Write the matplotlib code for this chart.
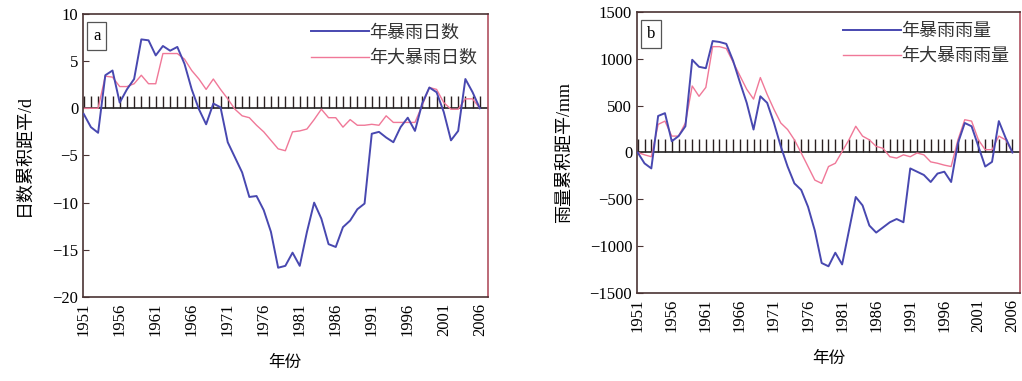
import numpy as np
import matplotlib
matplotlib.use("Agg")
import matplotlib.pyplot as plt

plt.rcParams['font.family'] = ['Liberation Serif', 'Noto Sans CJK SC', 'DejaVu Sans']

years = np.arange(1951, 2007)

# cumulative anomaly of rainstorm days (d)
storm_days = [
    -0.6, -2.0, -2.6, 3.5, 4.0, 0.6, 2.0, 3.1, 7.3, 7.2,
    5.6, 6.6, 6.1, 6.5, 4.7, 2.0, -0.1, -1.7, 0.5, 0.1,
    -3.6, -5.2, -6.8, -9.4, -9.3, -10.8, -13.1, -16.9, -16.7, -15.3,
    -16.7, -13.1, -10.0, -11.7, -14.4, -14.7, -12.6, -11.9, -10.7, -10.1,
    -2.7, -2.5, -3.1, -3.6, -2.0, -1.0, -2.4, 0.5, 2.2, 1.7,
    -0.4, -3.4, -2.4, 3.1, 1.7, 0.0,
]
heavy_storm_days = [
    0.0, 0.0, 0.0, 3.4, 3.3, 2.3, 2.3, 2.6, 3.5, 2.6,
    2.6, 5.8, 5.8, 5.8, 5.2, 4.0, 3.1, 2.0, 3.1, 2.0,
    1.0, -0.1, -0.8, -1.0, -1.8, -2.5, -3.4, -4.3, -4.5, -2.5,
    -2.4, -2.2, -1.2, -0.1, -1.0, -1.0, -2.0, -1.2, -1.8, -1.8,
    -1.7, -1.8, -0.8, -1.5, -1.5, -1.5, -1.5, 0.3, 2.2, 2.0,
    0.6, -0.1, -0.1, 1.0, 1.0, 0.0,
]

# cumulative anomaly of rainstorm precipitation (mm)
storm_rain = [
    0, -116, -170, 390, 420, 120, 175, 280, 990, 915,
    900, 1190, 1180, 1160, 980, 750, 530, 245, 600, 530,
    315, 65, -150, -330, -400, -580, -835, -1180, -1215, -1070,
    -1195, -835, -475, -565, -780, -855, -800, -745, -710, -745,
    -170, -205, -240, -315, -225, -205, -315, 100, 315, 280,
    65, -150, -100, 335, 155, 0,
]
heavy_storm_rain = [
    0, -25, -45, 300, 335, 175, 175, 315, 710, 600,
    695, 1130, 1130, 1110, 965, 820, 675, 570, 800, 620,
    460, 315, 245, 135, -5, -150, -295, -330, -150, -115,
    10, 135, 280, 175, 135, 65, 45, -45, -60, -25,
    -45, -5, -25, -100, -115, -135, -150, 135, 350, 335,
    135, 30, 30, 175, 135, 0,
]

tick_years = np.arange(1951, 2007, 5)
blue = "#4848b0"
pink = "#f07898"
frame = "#4a3434"

fig = plt.figure(figsize=(10.22, 3.81), dpi=100)
ax_a = fig.add_axes([0.0812, 0.2205, 0.396, 0.743])
ax_b = fig.add_axes([0.6233, 0.231, 0.3747, 0.7375])


def draw_panel(ax, s1, s2, names, ylim, yticks, ylabel, letter, stub, ypad):
    ax.plot(years, s1, color=blue, lw=1.4, label=names[0], zorder=3)
    ax.plot(years, s2, color=pink, lw=1.0, label=names[1], zorder=2)
    ax.axhline(0, color="#222222", lw=1.2, zorder=1)
    ax.vlines(years, 0, stub, color="#2a2020", lw=1.0, zorder=1)
    ax.set_xlim(1950.9, 2007.1)
    ax.set_ylim(*ylim)
    ax.set_yticks(yticks)
    ax.set_xticks(tick_years)
    ax.set_xticklabels([str(y) for y in tick_years], rotation=90, fontsize=12)
    ax.tick_params(axis="y", labelsize=12, direction="in", length=4, color=frame)
    ax.tick_params(axis="x", length=0, pad=4)
    for sp in ax.spines.values():
        sp.set_color(frame)
        sp.set_linewidth(1.2)
    ax.spines["right"].set_color("#b05060")
    ax.set_ylabel(ylabel, fontsize=13, labelpad=ypad)
    ax.set_xlabel("年份", fontsize=12, labelpad=14)
    ax.text(0.025, 0.95, letter, transform=ax.transAxes, fontsize=12,
            va="top", ha="left",
            bbox=dict(boxstyle="square,pad=0.35", fc="white", ec="#555555", lw=0.9))
    leg = ax.legend(loc="upper right", frameon=False, fontsize=13,
                    handlelength=3.2, handletextpad=0.0, borderaxespad=0.2,
                    labelspacing=0.45)
    for t in leg.get_texts():
        t.set_color("#333333")


draw_panel(ax_a, storm_days, heavy_storm_days, ["年暴雨日数", "年大暴雨日数"],
           (-20, 10), [-20, -15, -10, -5, 0, 5, 10], "日数累积距平/d", "a", 1.35, 14)
draw_panel(ax_b, storm_rain, heavy_storm_rain, ["年暴雨雨量", "年大暴雨雨量"],
           (-1500, 1500), [-1500, -1000, -500, 0, 500, 1000, 1500], "雨量累积距平/mm", "b", 145, 12)

fig.savefig("out.png", dpi=100)
